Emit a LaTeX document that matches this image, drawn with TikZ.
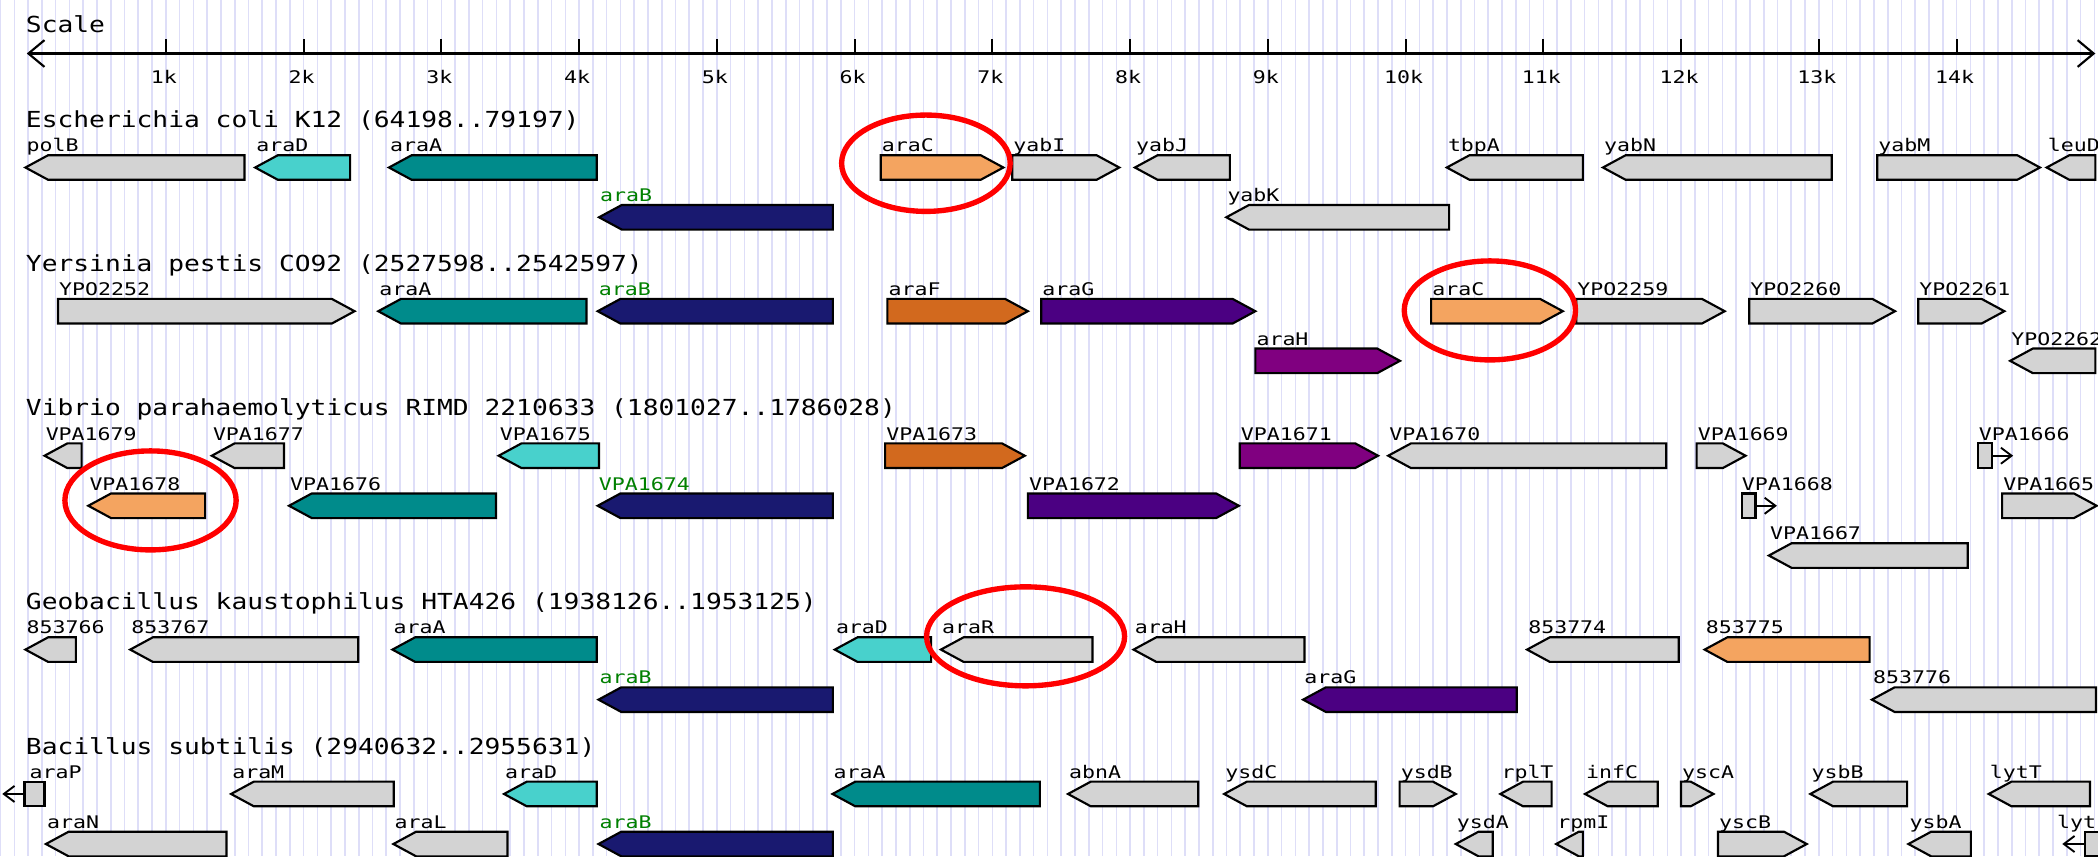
\documentclass[tikz,border=0pt]{standalone}
\usepackage{fontspec}
\usetikzlibrary{arrows.meta}
\newfontfamily\titlefont[FakeStretch=1.19]{DejaVu Sans Mono}
\newfontfamily\genefont[FakeStretch=1.24]{DejaVu Sans Mono}

\definecolor{stripeCol}{RGB}{222,222,248}
\definecolor{geneGray}{RGB}{211,211,211}
\definecolor{geneTurq}{RGB}{72,209,204}
\definecolor{geneTeal}{RGB}{0,139,139}
\definecolor{geneNavy}{RGB}{25,25,112}
\definecolor{geneSand}{RGB}{244,164,96}
\definecolor{geneChoc}{RGB}{210,105,30}
\definecolor{geneIndigo}{RGB}{75,0,130}
\definecolor{genePurple}{RGB}{128,0,128}
\definecolor{labGreen}{RGB}{0,128,0}

% gene glyph geometry (picture units)
\newcommand{\gptl}{17}
\newcommand{\gboxh}{18.4}
\newcommand{\ghalfh}{9.2}

% right-pointing gene: name, left x, tip x, top y, fill, label, label colour
\newcommand{\gfwd}[7]{%
  \filldraw[genebox, fill=#5] (#2,#4) -- ({#3-\gptl},#4) -- (#3,{#4+\ghalfh})
     -- ({#3-\gptl},{#4+\gboxh}) -- (#2,{#4+\gboxh}) -- cycle;
  \node[genelabel, text=#7] (#1) at ({#2+0.5},{#4-2.5}) {#6};}
% left-pointing gene: name, tip x, right x, top y, fill, label, label colour
\newcommand{\grev}[7]{%
  \filldraw[genebox, fill=#5] (#2,{#4+\ghalfh}) -- ({#2+\gptl},#4) -- (#3,#4)
     -- (#3,{#4+\gboxh}) -- ({#2+\gptl},{#4+\gboxh}) -- cycle;
  \node[genelabel, text=#7] (#1) at ({#2+0.5},{#4-2.5}) {#6};}
% very short gene drawn as a stub with a direction arrow:
% name, box left, box right, arrow end x, top y, label, label x
\newcommand{\gstub}[7]{%
  \filldraw[genebox, fill=geneGray] (#2,#5) rectangle (#3,{#5+\gboxh});
  \node[genelabel] (#1) at (#7,{#5-2.5}) {#6};}

\tikzset{
  genebox/.style={draw=black, line width=0.8pt, line join=miter},
  genelabel/.style={anchor=base west, inner sep=0pt, font=\genefont\fontsize{6.5pt}{7pt}\selectfont},
  titlelabel/.style={anchor=base west, inner sep=0pt, font=\titlefont\fontsize{8.25pt}{10pt}\selectfont},
  ticklabel/.style={anchor=base, inner sep=0pt, font=\genefont\fontsize{6.5pt}{7pt}\selectfont},
  stripeline/.style={draw=stripeCol, line width=0.6pt},
  redring/.style={draw=red, line width=2pt},
  axisline/.style={line width=0.8pt},
  stubarrow/.style={line width=0.7pt, -{Straight Barb[length=4pt,width=6pt]}},
}

\begin{document}
\begin{tikzpicture}[x=0.5pt, y=-0.5pt]
\useasboundingbox (0,0) rectangle (1568,640);
\clip (0,0) rectangle (1568,640);
\fill[white] (0,0) rectangle (1568,640);

% background grid stripes every 100 bp
\foreach \i in {-2,...,152}
  \draw[stripeline] ({21+\i*10.295},0) -- ({21+\i*10.295},640);

% scale bar
\node[titlelabel] (t-scale) at (19,24.5) {Scale};
\coordinate (axL) at (20,40);
\coordinate (axR) at (1566,40);
\draw[axisline, {Straight Barb[length=6pt,width=10pt]}-{Straight Barb[length=6pt,width=10pt]}] (axL) -- (axR);
\foreach \k in {1,...,14} {
  \draw[axisline] ({21+102.95*\k},29.5) -- ({21+102.95*\k},40);
  \node[ticklabel] (tick\k) at ({21+102.95*\k-1.5},62.5) {\k k};
}

% ---------------- Escherichia coli K12
\node[titlelabel] (t-ec) at (19,95.5) {Escherichia coli K12 (64198..79197)};
\grev{ec-polB}{19}{182.7}{116}{geneGray}{polB}{black}
\grev{ec-araD}{190.7}{261.7}{116}{geneTurq}{araD}{black}
\grev{ec-araA}{290.7}{446}{116}{geneTeal}{araA}{black}
\gfwd{ec-araC}{658.2}{749.9}{116}{geneSand}{araC}{black}
\gfwd{ec-yabI}{756.5}{836.5}{116}{geneGray}{yabI}{black}
\grev{ec-yabJ}{848.2}{919.2}{116}{geneGray}{yabJ}{black}
\grev{ec-tbpA}{1081.3}{1183}{116}{geneGray}{tbpA}{black}
\grev{ec-yabN}{1198}{1369}{116}{geneGray}{yabN}{black}
\gfwd{ec-yabM}{1403}{1524.6}{116}{geneGray}{yabM}{black}
\grev{ec-leuD}{1529.6}{1566}{116}{geneGray}{leuD}{black}
\grev{ec-araB}{447.7}{622.5}{153.2}{geneNavy}{araB}{labGreen}
\grev{ec-yabK}{916.5}{1083}{153.2}{geneGray}{yabK}{black}

% ---------------- Yersinia pestis CO92
\node[titlelabel] (t-yp) at (19,202.9) {Yersinia pestis CO92 (2527598..2542597)};
\gfwd{yp-2252}{43.3}{265}{223.4}{geneGray}{YPO2252}{black}
\grev{yp-araA}{282.7}{438.3}{223.4}{geneTeal}{araA}{black}
\grev{yp-araB}{446.7}{622.5}{223.4}{geneNavy}{araB}{labGreen}
\gfwd{yp-araF}{663.2}{768.2}{223.4}{geneChoc}{araF}{black}
\gfwd{yp-araG}{778.2}{938.2}{223.4}{geneIndigo}{araG}{black}
\gfwd{yp-araC}{1069.6}{1168}{223.4}{geneSand}{araC}{black}
\gfwd{yp-2259}{1178}{1289}{223.4}{geneGray}{YPO2259}{black}
\gfwd{yp-2260}{1307.3}{1416.3}{223.4}{geneGray}{YPO2260}{black}
\gfwd{yp-2261}{1433.6}{1498}{223.4}{geneGray}{YPO2261}{black}
\gfwd{yp-araH}{938.2}{1046.3}{260.5}{genePurple}{araH}{black}
\grev{yp-2262}{1502.3}{1566}{260.5}{geneGray}{YPO2262}{black}

% ---------------- Vibrio parahaemolyticus
\node[titlelabel] (t-vp) at (19,310.9) {Vibrio parahaemolyticus RIMD 2210633 (1801027..1786028)};
\grev{vp-1679}{33.3}{61}{331.4}{geneGray}{VPA1679}{black}
\grev{vp-1677}{158.3}{212.3}{331.4}{geneGray}{VPA1677}{black}
\grev{vp-1675}{372.7}{447.7}{331.4}{geneTurq}{VPA1675}{black}
\gfwd{vp-1673}{661.5}{765.9}{331.4}{geneChoc}{VPA1673}{black}
\gfwd{vp-1671}{926.5}{1029.9}{331.4}{genePurple}{VPA1671}{black}
\grev{vp-1670}{1037.5}{1245.3}{331.4}{geneGray}{VPA1670}{black}
\gfwd{vp-1669}{1268}{1304.6}{331.4}{geneGray}{VPA1669}{black}
\gstub{vp-1666}{1478.6}{1488.6}{1504.6}{331.4}{VPA1666}{1478.5}
\coordinate (vp-1666-a) at (1488.6,340.6);
\coordinate (vp-1666-b) at (1504.6,340.6);
\draw[stubarrow] (vp-1666-a) -- (vp-1666-b);
\grev{vp-1678}{66}{153.3}{368.8}{geneSand}{VPA1678}{black}
\grev{vp-1676}{216}{370.7}{368.8}{geneTeal}{VPA1676}{black}
\grev{vp-1674}{446.7}{622.5}{368.8}{geneNavy}{VPA1674}{labGreen}
\gfwd{vp-1672}{768.2}{925.9}{368.8}{geneIndigo}{VPA1672}{black}
\gstub{vp-1668}{1302}{1312}{1328}{368.8}{VPA1668}{1301.5}
\coordinate (vp-1668-a) at (1312,378);
\coordinate (vp-1668-b) at (1328,378);
\draw[stubarrow] (vp-1668-a) -- (vp-1668-b);
\gfwd{vp-1665}{1496.3}{1567}{368.8}{geneGray}{VPA1665}{black}
\grev{vp-1667}{1322}{1470.6}{406}{geneGray}{VPA1667}{black}

% ---------------- Geobacillus kaustophilus
\node[titlelabel] (t-gk) at (19,455.8) {Geobacillus kaustophilus HTA426 (1938126..1953125)};
\grev{gk-3766}{19}{56.7}{476.3}{geneGray}{853766}{black}
\grev{gk-3767}{97.3}{267.7}{476.3}{geneGray}{853767}{black}
\grev{gk-araA}{293.3}{446}{476.3}{geneTeal}{araA}{black}
\grev{gk-araD}{623.9}{695.9}{476.3}{geneTurq}{araD}{black}
\grev{gk-araR}{703.2}{816.5}{476.3}{geneGray}{araR}{black}
\grev{gk-araH}{847.2}{974.9}{476.3}{geneGray}{araH}{black}
\grev{gk-3774}{1141.3}{1254.6}{476.3}{geneGray}{853774}{black}
\grev{gk-3775}{1274}{1397.3}{476.3}{geneSand}{853775}{black}
\grev{gk-araB}{447.3}{622.5}{513.7}{geneNavy}{araB}{labGreen}
\grev{gk-araG}{973.9}{1133.6}{513.7}{geneIndigo}{araG}{black}
\grev{gk-3776}{1399}{1566.5}{513.7}{geneGray}{853776}{black}

% ---------------- Bacillus subtilis
\node[titlelabel] (t-bs) at (19,563.7) {Bacillus subtilis (2940632..2955631)};
\gstub{bs-araP}{18.3}{33.3}{1.7}{584.2}{araP}{21.7}
\coordinate (bs-araP-a) at (18.3,593.4);
\coordinate (bs-araP-b) at (1.7,593.4);
\draw[stubarrow] (bs-araP-a) -- (bs-araP-b);
\grev{bs-araM}{172.7}{294.3}{584.2}{geneGray}{araM}{black}
\grev{bs-araD}{376.7}{446}{584.2}{geneTurq}{araD}{black}
\grev{bs-araA}{622.2}{777.2}{584.2}{geneTeal}{araA}{black}
\grev{bs-abnA}{798.2}{895.5}{584.2}{geneGray}{abnA}{black}
\grev{bs-ysdC}{914.9}{1028.2}{584.2}{geneGray}{ysdC}{black}
\gfwd{bs-ysdB}{1046}{1088}{584.2}{geneGray}{ysdB}{black}
\grev{bs-rplT}{1121.3}{1159.6}{584.2}{geneGray}{rplT}{black}
\grev{bs-infC}{1184.6}{1239}{584.2}{geneGray}{infC}{black}
\gfwd{bs-yscA}{1256.3}{1280.6}{584.2}{geneGray}{yscA}{black}
\grev{bs-ysbB}{1353}{1425.3}{584.2}{geneGray}{ysbB}{black}
\grev{bs-lytT}{1486.3}{1562}{584.2}{geneGray}{lytT}{black}
\grev{bs-araN}{34.3}{169.3}{621.6}{geneGray}{araN}{black}
\grev{bs-araL}{294}{379.3}{621.6}{geneGray}{araL}{black}
\grev{bs-araB}{447.3}{622.5}{621.6}{geneNavy}{araB}{labGreen}
\grev{bs-ysdA}{1088}{1115.6}{621.6}{geneGray}{ysdA}{black}
\grev{bs-rpmI}{1163}{1183}{621.6}{geneGray}{rpmI}{black}
\gfwd{bs-yscB}{1284}{1350.3}{621.6}{geneGray}{yscB}{black}
\grev{bs-ysbA}{1426.3}{1473}{621.6}{geneGray}{ysbA}{black}
\gstub{bs-lyt}{1558}{1572}{1541.3}{621.6}{lyt}{1537}
\coordinate (bs-lyt-a) at (1558,630.8);
\coordinate (bs-lyt-b) at (1541.3,630.8);
\draw[stubarrow] (bs-lyt-a) -- (bs-lyt-b);

% highlighted araC-type regulators
\draw[redring] (692,122) ellipse [x radius=63, y radius=36];
\draw[redring] (1113.5,232) ellipse [x radius=64, y radius=37];
\draw[redring] (112.5,374) ellipse [x radius=64, y radius=37];
\draw[redring] (766.5,475.6) ellipse [x radius=74, y radius=37];
\end{tikzpicture}
\end{document}
